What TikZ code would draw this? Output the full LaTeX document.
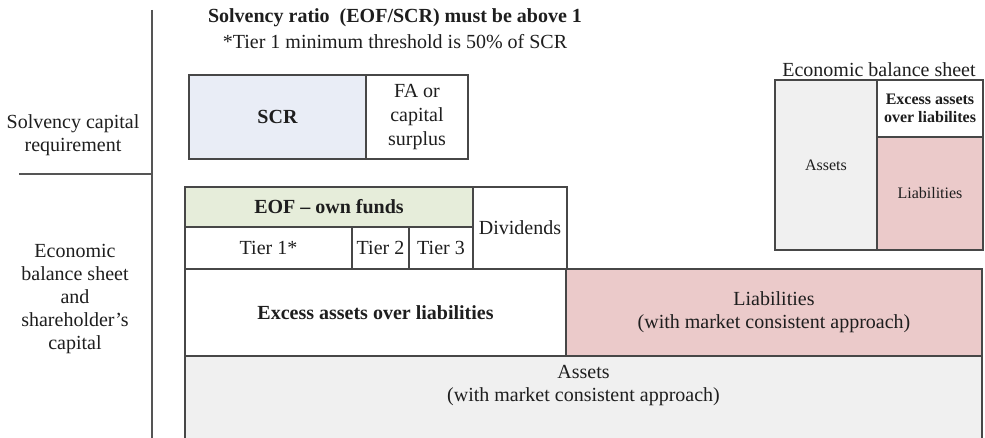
\documentclass[tikz,border=0pt]{standalone}
\usepackage{fontspec}
\setmainfont{Liberation Serif}

\definecolor{ink}{HTML}{1E1E1E}
\definecolor{edge}{HTML}{474747}
\definecolor{rule}{HTML}{555555}
\definecolor{scrfill}{HTML}{E9EDF6}
\definecolor{eoffill}{HTML}{E6EDDA}
\definecolor{liabfill}{HTML}{EBCACA}
\definecolor{assetfill}{HTML}{F0F0F0}

\begin{document}
\begin{tikzpicture}[x=0.5pt,y=-0.5pt,
  cell/.style={draw=edge, line width=0.75pt, inner sep=0pt, align=center,
               text=ink, font=\fontsize{10}{12}\selectfont},
  smallcell/.style={cell, font=\fontsize{8}{9}\selectfont},
  boldcell/.style={cell, font=\bfseries\fontsize{10}{12}\selectfont},
  size/.style 2 args={minimum width=#1, minimum height=#2},
  sidetext/.style={align=center, text=ink, inner sep=0pt,
                   font=\fontsize{10}{11.5}\selectfont},
  divider/.style={draw=rule, line width=0.6pt}]

% page frame
\clip (0,0) rectangle (985,438);
\fill[white] (0,0) rectangle (985,438);

% row headings on the left
\coordinate (vtop) at (152,10);
\coordinate (vbot) at (152,445);
\coordinate (hleft) at (19,174);
\coordinate (hright) at (152,174);
\draw[divider] (vtop) -- (vbot);
\draw[divider] (hleft) -- (hright);
\node[sidetext] (rowscr) at (73,135) {Solvency capital\\requirement};
\node[sidetext] (rowebs) at (75,299) {Economic\\balance sheet\\and\\shareholder’s\\capital};

% heading
\node[sidetext, font=\bfseries\fontsize{10}{12}\selectfont] (title) at (395,18)
  {Solvency ratio~ (EOF/SCR) must be above 1};
\node[sidetext] (note) at (395,42) {*Tier 1 minimum threshold is 50\% of SCR};

% capital requirement
\node[boldcell, fill=scrfill, size={88.5pt}{42pt}] (scr) at (277.5,117) {SCR};
\node[cell, fill=white, size={51pt}{42pt}] (fa) at (417,117) {FA or\\capital\\surplus};

% own funds
\node[boldcell, fill=eoffill, size={144pt}{20pt}] (eof) at (329,207) {EOF -- own funds};
\node[cell, fill=white, size={83.5pt}{21pt}] (tier1) at (268.5,248) {Tier 1*};
\node[cell, fill=white, size={28.5pt}{21pt}] (tier2) at (380.5,248) {Tier 2};
\node[cell, fill=white, size={32pt}{21pt}] (tier3) at (441,248) {Tier 3};
\node[cell, fill=white, size={47pt}{41pt}] (div) at (520,228) {Dividends};

% balance sheet rows
\node[boldcell, fill=white, size={190.5pt}{43.5pt}] (excess) at (375.5,312.5) {Excess assets over liabilities};
\node[cell, fill=liabfill, size={208pt}{43.5pt}, font=\fontsize{10}{11.5}\selectfont] (liab) at (774,312.5)
  {Liabilities\\(with market consistent approach)};
\node[cell, fill=assetfill, size={398.5pt}{57pt}] (assets) at (583.5,413) {};
\node[sidetext] (assetstxt) at (583.5,386) {Assets\\(with market consistent approach)};

% small economic balance sheet
\node[sidetext] (ebstitle) at (879,70) {Economic balance sheet};
\node[smallcell, fill=assetfill, size={51pt}{85pt}] (ebsassets) at (826,165) {Assets};
\node[smallcell, fill=white, size={53pt}{28.5pt}, font=\bfseries\fontsize{8}{9}\selectfont] (ebsexcess) at (930,108.5)
  {Excess assets\\over liabilites};
\node[smallcell, fill=liabfill, size={53pt}{56.5pt}] (ebsliab) at (930,193.5) {Liabilities};

\end{tikzpicture}
\end{document}
